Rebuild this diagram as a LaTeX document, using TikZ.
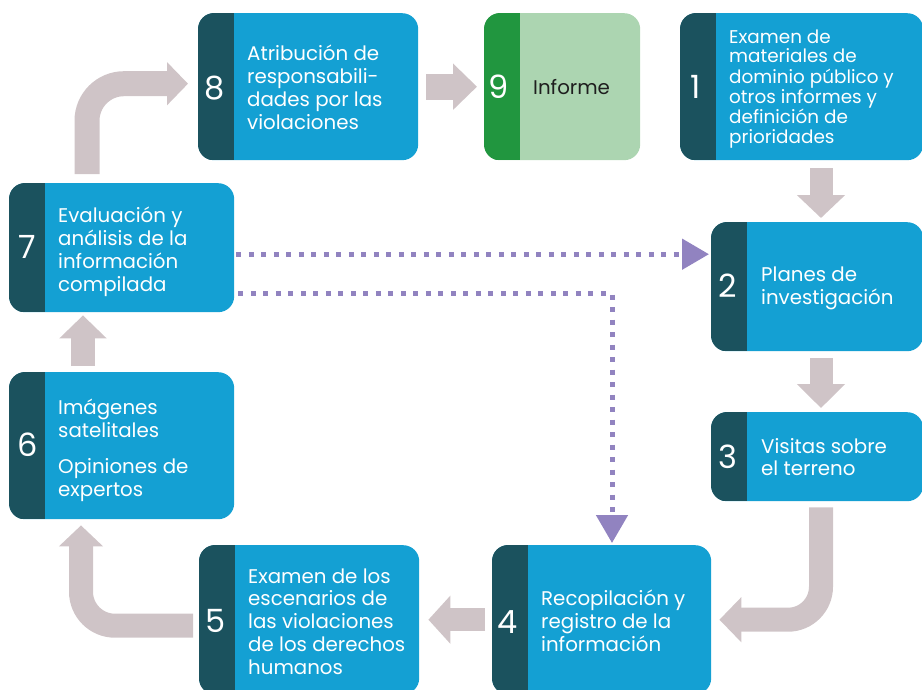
\documentclass[tikz,border=0pt]{standalone}
\usepackage{fontspec}
\setmainfont{Poppins}
\usetikzlibrary{arrows.meta,calc}
\definecolor{darkstrip}{HTML}{1B525E}
\definecolor{boxblue}{HTML}{14A0D3}
\definecolor{greendark}{HTML}{21963F}
\definecolor{greenlight}{HTML}{ACD5B1}
\definecolor{arrowgrey}{HTML}{CFC4C7}
\definecolor{dotpurple}{HTML}{9183C0}
\newcommand{\txtlines}[1]{\begin{tabular}[t]{@{}l@{}}#1\end{tabular}}
\newcommand{\sidestrip}[2]{%
  \begin{scope}
    \clip[rounded corners=16pt] (#1.north west) rectangle (#1.south east);
    \fill[#2] (#1.north west) rectangle ($(#1.south west)+(36,0)$);
  \end{scope}}
\begin{document}
\begin{tikzpicture}[x=1pt,y=-1pt,
  box/.style 2 args={rectangle, rounded corners=16pt, fill=boxblue, inner sep=0pt,
    anchor=north west, minimum width=#1pt, minimum height=#2pt},
  num/.style={text=white, inner sep=0pt, font=\fontsize{32}{32}\selectfont},
  txt/.style={anchor=base west, inner sep=0pt, text=white, font=\fontsize{19.8}{23}\selectfont},
  blk/.style={draw=arrowgrey, line width=24pt, line cap=butt},
  dotarrow/.style={draw=dotpurple, line width=5pt, line cap=butt, dash pattern=on 5pt off 7.5pt,
    -{Triangle[length=27pt,width=30pt]}}]
\useasboundingbox (0,0) rectangle (922,689);
\clip (0,0) rectangle (922,689);

% boxes
\node[box={220}{147}] (b8) at (198,13) {};
\node[box={156}{147}, fill=greenlight] (b9) at (484,13) {};
\node[box={243}{147}] (b1) at (680,13) {};
\node[box={225}{129}] (b7) at (9,183) {};
\node[box={212}{129}] (b2) at (711,222) {};
\node[box={225}{147}] (b6) at (9,372) {};
\node[box={212}{89}] (b3) at (711,412) {};
\node[box={220}{149}] (b5) at (199,545) {};
\node[box={219}{149}] (b4) at (492,545) {};

\sidestrip{b8}{darkstrip}
\sidestrip{b9}{greendark}
\sidestrip{b1}{darkstrip}
\sidestrip{b7}{darkstrip}
\sidestrip{b2}{darkstrip}
\sidestrip{b6}{darkstrip}
\sidestrip{b3}{darkstrip}
\sidestrip{b5}{darkstrip}
\sidestrip{b4}{darkstrip}

% numbers
\node[num] (n8) at ($(b8.west)+(17,1)$) {8};
\node[num] (n9) at ($(b9.west)+(15,0)$) {9};
\node[num] (n1) at ($(b1.west)+(16,0)$) {1};
\node[num] (n7) at ($(b7.west)+(18,-1)$) {7};
\node[num] (n2) at ($(b2.west)+(17,-1)$) {2};
\node[num] (n6) at ($(b6.west)+(19,-1)$) {6};
\node[num] (n3) at ($(b3.west)+(17,0)$) {3};
\node[num] (n5) at ($(b5.west)+(17,1)$) {5};
\node[num] (n4) at ($(b4.west)+(16,2)$) {4};

% texts
\node[txt] (t8) at (247,60) {\txtlines{Atribución de\\responsabili-\\dades por las\\violaciones}};
\node[txt, text={black!88}] (t9) at (533,94) {Informe};
\node[txt, font=\fontsize{18.4}{19.6}\selectfont] (t1) at (729,43) {\txtlines{Examen de\\materiales de\\dominio público y\\otros informes y\\definición de\\prioridades}};
\node[txt] (t7) at (58,222) {\txtlines{Evaluación y\\análisis de la\\información\\compilada}};
\node[txt] (t2) at (761,281) {\txtlines{Planes de\\investigación}};
\node[txt] (t6) at (58,414) {\txtlines{Imágenes\\satelitales\\[13pt]Opiniones de\\expertos}};
\node[txt, font=\fontsize{19.8}{22}\selectfont] (t3) at (761,453) {\txtlines{Visitas sobre\\el terreno}};
\node[txt, font=\fontsize{19.8}{22.75}\selectfont] (t5) at (248,583) {\txtlines{Examen de los\\escenarios de\\las violaciones\\de los derechos\\humanos}};
\node[txt] (t4) at (541,605) {\txtlines{Recopilación y\\registro de la\\información}};

% block arrows
\draw[blk, line width=26pt, -{Triangle[length=24pt,width=45pt]}]
  ($(b8.east)+(8,0)$) -- ($(b9.west)+(-7,0)$);
\draw[blk, line width=25pt, rounded corners=37pt, -{Triangle[length=21pt,width=42pt]}]
  ($(b7.north west)+(78,-9)$) |- ($(b8.west)+(-10,-3)$);
\draw[blk, line width=23pt, -{Triangle[length=23pt,width=47pt]}]
  ($(b1.south west)+(141,8)$) -- ($(b2.north west)+(110,-4)$);
\draw[blk, line width=23pt, -{Triangle[length=24pt,width=47pt]}]
  ($(b2.south west)+(110,7)$) -- ($(b3.north west)+(110,-4)$);
\draw[blk, line width=24pt, rounded corners=33pt, -{Triangle[length=22pt,width=44pt]}]
  ($(b3.south west)+(110,6)$) |- ($(b4.east)+(8,0)$);
\draw[blk, line width=23pt, -{Triangle[length=22pt,width=47pt]}]
  ($(b4.west)+(-7,0)$) -- ($(b5.east)+(9,0)$);
\draw[blk, line width=24pt, rounded corners=34pt, -{Triangle[length=21pt,width=43pt]}]
  ($(b5.west)+(-6,6)$) -| ($(b6.south west)+(72,6)$);
\draw[blk, line width=24pt, -{Triangle[length=23pt,width=46pt]}]
  ($(b6.north west)+(74,-6)$) -- ($(b7.south west)+(74,3)$);

% dotted arrows
\draw[dotarrow] ($(b7.east)+(2,6.5)$) -- ($(b2.west)+(-2,-32.5)$);
\draw[dotarrow, -{Triangle[length=28pt,width=31pt]}] ($(b7.east)+(4,45.5)$) -| ($(b4.north west)+(120,-2)$);
\end{tikzpicture}
\end{document}
